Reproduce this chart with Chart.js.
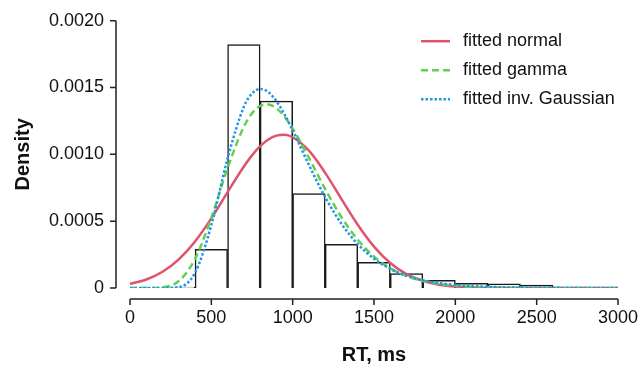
<!DOCTYPE html>
<html>
<head>
<meta charset="utf-8">
<script src="https://cdn.jsdelivr.net/npm/chart.js@4.4.1/dist/chart.umd.min.js"></script>
<style>
  html, body { margin: 0; padding: 0; background: #fff; }
  #wrap { width: 638px; height: 365px; position: relative; }
</style>
</head>
<body>
<div id="wrap"><canvas id="chart"></canvas></div>
<script>
// histogram bins (200 ms wide), centres and densities
const binCenters = [300, 500, 700, 900, 1100, 1300, 1500, 1700, 1900, 2100, 2300, 2500, 2700, 2900];
const binDensity = [0.000007, 0.000289, 0.001821, 0.001398, 0.000707, 0.000326, 0.000192,
                    0.000107, 0.000057, 0.000035, 0.000032, 0.000021, 0.000006, 0.000004];

// fitted curves, read at these RT values
const rtGrid = [0, 100, 200, 300, 400, 500, 600, 700, 750, 800, 850, 900, 950, 1000,
                1100, 1200, 1300, 1400, 1500, 1600, 1700, 1800, 1900, 2000, 2100, 2200,
                2300, 2400, 2500, 2600, 2700, 2800, 2900, 3000];
const normalDensity = [3.06e-5, 6.36e-5, 1.217e-4, 2.147e-4, 3.486e-4, 5.211e-4, 7.173e-4, 9.092e-4,
                       9.923e-4, 1.0609e-3, 1.1111e-3, 1.1399e-3, 1.1463e-3, 1.1278e-3,
                       1.0273e-3, 8.617e-4, 6.654e-4, 4.731e-4, 3.097e-4, 1.867e-4, 1.036e-4,
                       5.30e-5, 2.49e-5, 1.08e-5, 4.3e-6, 1.6e-6, 5e-7, 1e-7, 0, 0, 0, 0, 0, 0];
const gammaDensity = [0, 0, 4.6e-6, 5.20e-5, 2.174e-4, 5.256e-4, 8.976e-4, 1.2071e-3,
                      1.3067e-3, 1.3620e-3, 1.3731e-3, 1.3442e-3, 1.2818e-3, 1.1939e-3,
                      9.735e-4, 7.398e-4, 5.298e-4, 3.608e-4, 2.352e-4, 1.476e-4, 8.96e-5,
                      5.29e-5, 3.04e-5, 1.70e-5, 9.3e-6, 5.0e-6, 2.7e-6, 1.4e-6, 7e-7, 3e-7, 0, 0, 0, 0];
const invGaussDensity = [0, 0, 0, 6.6e-6, 1.135e-4, 4.703e-4, 9.709e-4, 1.3558e-3,
                         1.4551e-3, 1.4893e-3, 1.4664e-3, 1.3984e-3, 1.2985e-3, 1.1790e-3,
                         9.204e-4, 6.791e-4, 4.802e-4, 3.286e-4, 2.191e-4, 1.432e-4, 9.20e-5,
                         5.84e-5, 3.66e-5, 2.28e-5, 1.40e-5, 8.6e-6, 5.2e-6, 3.2e-6, 1.9e-6,
                         1.2e-6, 7e-7, 4e-7, 3e-7, 2e-7];

const xTicks = [0, 500, 1000, 1500, 2000, 2500, 3000];
const yTicks = [0, 0.0005, 0.0010, 0.0015, 0.0020];
const seriesNames = ['fitted normal', 'fitted gamma', 'fitted inv. Gaussian'];

const RED = '#DF536B', GREEN = '#61D04F', BLUE = '#2297E6';
const FONT = "'Liberation Sans', Arial, Helvetica, sans-serif";

const toPoints = (ys) => rtGrid.map((x, i) => ({ x: x, y: ys[i] }));

// R-style axes sitting a little away from the plot region, plus the legend
const axesAndLegend = {
  id: 'axesAndLegend',
  afterDraw(chart) {
    const { ctx, chartArea, scales: { x, y } } = chart;
    ctx.save();
    ctx.strokeStyle = '#222';
    ctx.lineWidth = 1.5;
    // y axis
    const ax = chartArea.left - 14;
    ctx.beginPath();
    ctx.moveTo(ax, y.getPixelForValue(yTicks[yTicks.length - 1]));
    ctx.lineTo(ax, y.getPixelForValue(yTicks[0]));
    yTicks.forEach(v => {
      const p = y.getPixelForValue(v);
      ctx.moveTo(ax, p);
      ctx.lineTo(ax - 6, p);
    });
    ctx.stroke();
    // x axis
    const ay = chartArea.bottom + 11;
    ctx.beginPath();
    ctx.moveTo(x.getPixelForValue(xTicks[0]), ay);
    ctx.lineTo(x.getPixelForValue(xTicks[xTicks.length - 1]), ay);
    xTicks.forEach(v => {
      const p = x.getPixelForValue(v);
      ctx.moveTo(p, ay);
      ctx.lineTo(p, ay + 6);
    });
    ctx.stroke();

    // legend
    const styles = [[RED, []], [GREEN, [7, 4]], [BLUE, [2.5, 2]]];
    const lx = chartArea.right - 197;
    let ly = chartArea.top + 20.5;
    ctx.font = '18px ' + FONT;
    ctx.textBaseline = 'middle';
    ctx.textAlign = 'left';
    styles.forEach(([c, dash], i) => {
      ctx.strokeStyle = c;
      ctx.lineWidth = 2.5;
      ctx.setLineDash(dash);
      ctx.beginPath();
      ctx.moveTo(lx, ly);
      ctx.lineTo(lx + 29, ly);
      ctx.stroke();
      ctx.setLineDash([]);
      ctx.fillStyle = '#111';
      ctx.fillText(seriesNames[i], lx + 42, ly);
      ly += 29;
    });
    ctx.restore();
  }
};

const lineDs = (label, ys, color, dash, order) => ({
  type: 'line',
  label: label,
  data: toPoints(ys),
  borderColor: color,
  backgroundColor: color,
  borderWidth: 2.5,
  borderDash: dash,
  pointRadius: 0,
  cubicInterpolationMode: 'monotone',
  fill: false,
  order: order
});

new Chart(document.getElementById('chart'), {
  type: 'bar',
  data: {
    datasets: [
      {
        type: 'bar',
        label: 'histogram',
        data: binCenters.map((c, i) => ({ x: c, y: binDensity[i] })),
        backgroundColor: '#ffffff',
        borderColor: '#1a1a1a',
        borderWidth: 1.5,
        barPercentage: 1,
        categoryPercentage: 1,
        order: 10
      },
      lineDs(seriesNames[0], normalDensity, RED, [], 3),
      lineDs(seriesNames[1], gammaDensity, GREEN, [7, 4], 2),
      lineDs(seriesNames[2], invGaussDensity, BLUE, [2.5, 2], 1)
    ]
  },
  options: {
    responsive: true,
    maintainAspectRatio: false,
    animation: false,
    layout: { padding: { top: 20.7, right: 20, left: 0, bottom: 0 } },
    plugins: {
      legend: { display: false },
      tooltip: { enabled: false }
    },
    scales: {
      x: {
        type: 'linear',
        min: 0,
        max: 3000,
        offset: false,
        afterFit: s => {
          s.height = 77;
          s.paddingLeft = 0;
          s.paddingRight = 0;
        },
        afterBuildTicks: s => { s.ticks = xTicks.map(v => ({ value: v })); },
        grid: { display: false, drawTicks: false },
        border: { display: false },
        ticks: {
          padding: 19,
          color: '#111',
          maxRotation: 0,
          font: { family: FONT, size: 18, lineHeight: 1.2 },
          callback: v => String(v)
        },
        title: {
          display: true,
          text: 'RT, ms',
          color: '#111',
          padding: 0,
          font: { family: FONT, size: 20, weight: 'bold', lineHeight: 1 }
        }
      },
      y: {
        min: 0,
        max: 0.002,
        afterFit: s => {
          s.width = 130;
          s.paddingTop = 0;
          s.paddingBottom = 0;
        },
        afterBuildTicks: s => { s.ticks = yTicks.map(v => ({ value: v })); },
        grid: { display: false, drawTicks: false },
        border: { display: false },
        ticks: {
          padding: 26,
          color: '#111',
          font: { family: FONT, size: 18, lineHeight: 1.2 },
          callback: v => v === 0 ? '0' : v.toFixed(4)
        },
        title: {
          display: true,
          text: 'Density',
          color: '#111',
          padding: { top: 13, bottom: 0 },
          font: { family: FONT, size: 20, weight: 'bold', lineHeight: 1 }
        }
      }
    }
  },
  plugins: [axesAndLegend]
});
</script>
</body>
</html>
